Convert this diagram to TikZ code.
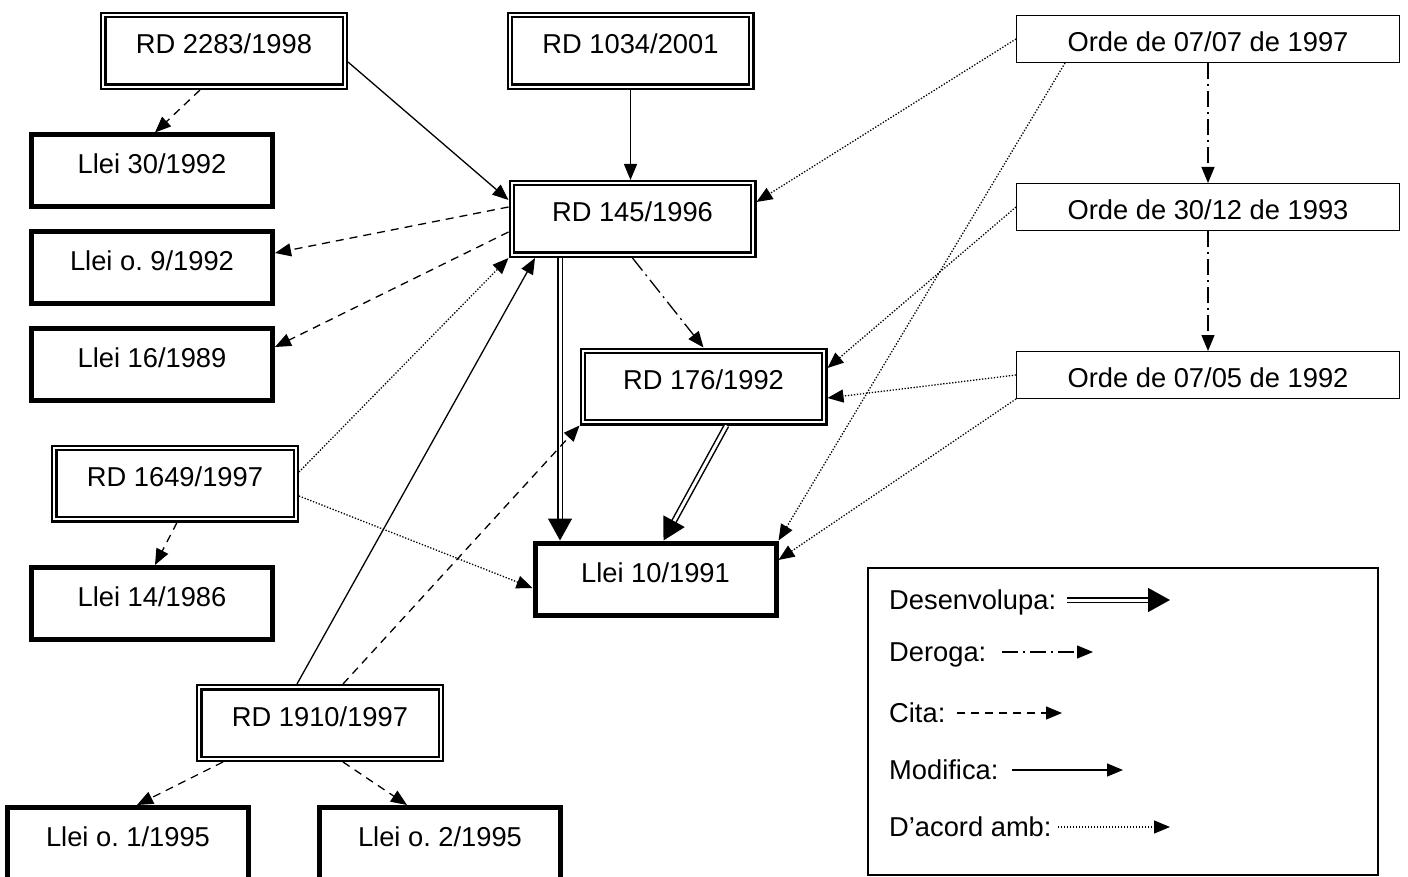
\documentclass[tikz,border=0pt]{standalone}
\usepackage{fontspec}
\setmainfont{Liberation Sans}
\usetikzlibrary{arrows.meta,calc}
\frenchspacing
\tikzset{
  dbox/.style={draw, double, line width=2.1pt, double distance=2.3pt, fill=white,
    minimum width=241.5pt, minimum height=71.5pt, inner sep=0pt, outer sep=3.25pt,
    text height=16pt, text depth=10pt},
  tbox/.style={draw, line width=5pt, fill=white,
    minimum width=241pt, minimum height=72pt, inner sep=0pt, outer sep=2.5pt,
    text height=16pt, text depth=10pt},
  obox/.style={draw, line width=1.3pt, fill=white,
    minimum width=382.7pt, minimum height=46.7pt, inner sep=0pt, outer sep=0.65pt,
    text height=25pt, text depth=0pt},
  tip/.style={-{Triangle[length=16pt,width=13pt]}},
  cita/.style={line width=1.3pt, dash pattern=on 8pt off 6pt, tip},
  modif/.style={line width=1.3pt, tip},
  dero/.style={line width=1.3pt, dash pattern=on 16pt off 5pt on 2pt off 5pt, tip},
  acord/.style={line width=1.3pt, dash pattern=on 1.3pt off 1.7pt, tip},
  desen/.style={line width=1.5pt, double, double distance=3pt, -{Triangle[length=22pt,width=24pt]}},
  legtext/.style={anchor=base west, inner sep=0pt},
}
\begin{document}
\begin{tikzpicture}[x=1pt, y=-1pt, font=\fontsize{27.3pt}{31pt}\selectfont]
\useasboundingbox (0,0) rectangle (1408,877);

% double-bordered boxes
\node[dbox] (rd2283) at (224,51) {RD 2283/1998};
\node[dbox] (rd1034) at (630.5,51) {RD 1034/2001};
\node[dbox] (rd145) at (632.5,219) {RD 145/1996};
\node[dbox] (rd176) at (703.5,386.5) {RD 176/1992};
\node[dbox] (rd1649) at (175,483.5) {RD 1649/1997};
\node[dbox] (rd1910) at (320,723) {RD 1910/1997};

% thick boxes
\node[tbox] (llei30) at (152,171) {Llei 30/1992};
\node[tbox] (llei09) at (152,267.5) {Llei o. 9/1992};
\node[tbox] (llei16) at (152,364) {Llei 16/1989};
\node[tbox] (llei14) at (152,603.5) {Llei 14/1986};
\node[tbox] (llei10) at (655.5,579) {Llei 10/1991};
\node[tbox] (lleio1) at (128,843.5) {Llei o. 1/1995};
\node[tbox] (lleio2) at (440,843.5) {Llei o. 2/1995};

% thin boxes
\node[obox] (orde1) at (1208,39) {Orde de 07/07 de 1997};
\node[obox] (orde2) at (1208,207) {Orde de 30/12 de 1993};
\node[obox] (orde3) at (1208,375) {Orde de 07/05 de 1992};

% connectors
\draw[cita] ([xshift=-24pt]rd2283.south) -- ([xshift=3pt]llei30.north);
\draw[modif] ([yshift=-11pt]rd2283.east) -- ([yshift=19pt]rd145.west);
\draw[modif] (rd1034.south) -- (rd1034.south |- rd145.north);
\draw[acord] (orde1.west) -- ([yshift=17pt]rd145.east);
\draw[acord] ([xshift=-143pt]orde1.south) -- (llei10.north east);
\draw[dero] (orde1.south) -- (orde2.north);
\draw[dero] (orde2.south) -- (orde3.north);
\draw[acord] (orde2.west) -- ([yshift=18.5pt]rd176.east);
\draw[acord] (orde3.west) -- ([yshift=-11.5pt]rd176.east);
\draw[acord] (orde3.south west) -- ([yshift=19pt]llei10.east);
\draw[cita] ([yshift=12pt]rd145.west) -- ([yshift=14.5pt]llei09.east);
\draw[cita] ([yshift=-13pt]rd145.west) -- ([yshift=17pt]llei16.east);
\draw[dero] (rd145.south) -- (rd176.north);
\draw[desen] ([xshift=-72.5pt]rd145.south) -- ([xshift=-72.5pt]rd145.south |- llei10.north);
\draw[desen] ([xshift=23pt]rd176.south) -- ([xshift=8pt]llei10.north);
\draw[acord] ([yshift=11.5pt]rd1649.east) -- (rd145.south west);
\draw[acord] ([yshift=-12.5pt]rd1649.east) -- ([yshift=-9pt]llei10.west);
\draw[modif] ([xshift=-23pt]rd1910.north) -- ([xshift=-97.5pt]rd145.south);
\draw[cita] ([xshift=23pt]rd1910.north) -- (rd176.south west);
\draw[cita] ([xshift=-97pt]rd1910.south) -- ([xshift=9pt]lleio1.north);
\draw[cita] ([xshift=23pt]rd1910.south) -- ([xshift=-33pt]lleio2.north);
\draw[cita] ([xshift=2pt]rd1649.south) -- ([xshift=3pt]llei14.north);

% legend
\node[draw, line width=1.3pt, minimum width=510pt, minimum height=307pt, inner sep=0pt] (legend) at (1123,721.5) {};
\node[legtext] (lt1) at (889,609.5) {Desenvolupa:};
\node[legtext] (lt2) at (889,661.5) {Deroga:};
\node[legtext] (lt3) at (889,722.5) {Cita:};
\node[legtext] (lt4) at (889,779.5) {Modifica:};
\node[legtext] (lt5) at (889,836.5) {D’acord amb:};
\coordinate (l1a) at (1067,600); \coordinate (l1b) at (1170,600);
\coordinate (l2a) at (1002,652); \coordinate (l2b) at (1093,652);
\coordinate (l3a) at (957,713);  \coordinate (l3b) at (1062,713);
\coordinate (l4a) at (1012,770); \coordinate (l4b) at (1123,770);
\coordinate (l5a) at (1058,827); \coordinate (l5b) at (1170,827);
\draw[desen] (l1a) -- (l1b);
\draw[dero] (l2a) -- (l2b);
\draw[cita] (l3a) -- (l3b);
\draw[modif] (l4a) -- (l4b);
\draw[acord] (l5a) -- (l5b);
\end{tikzpicture}
\end{document}
